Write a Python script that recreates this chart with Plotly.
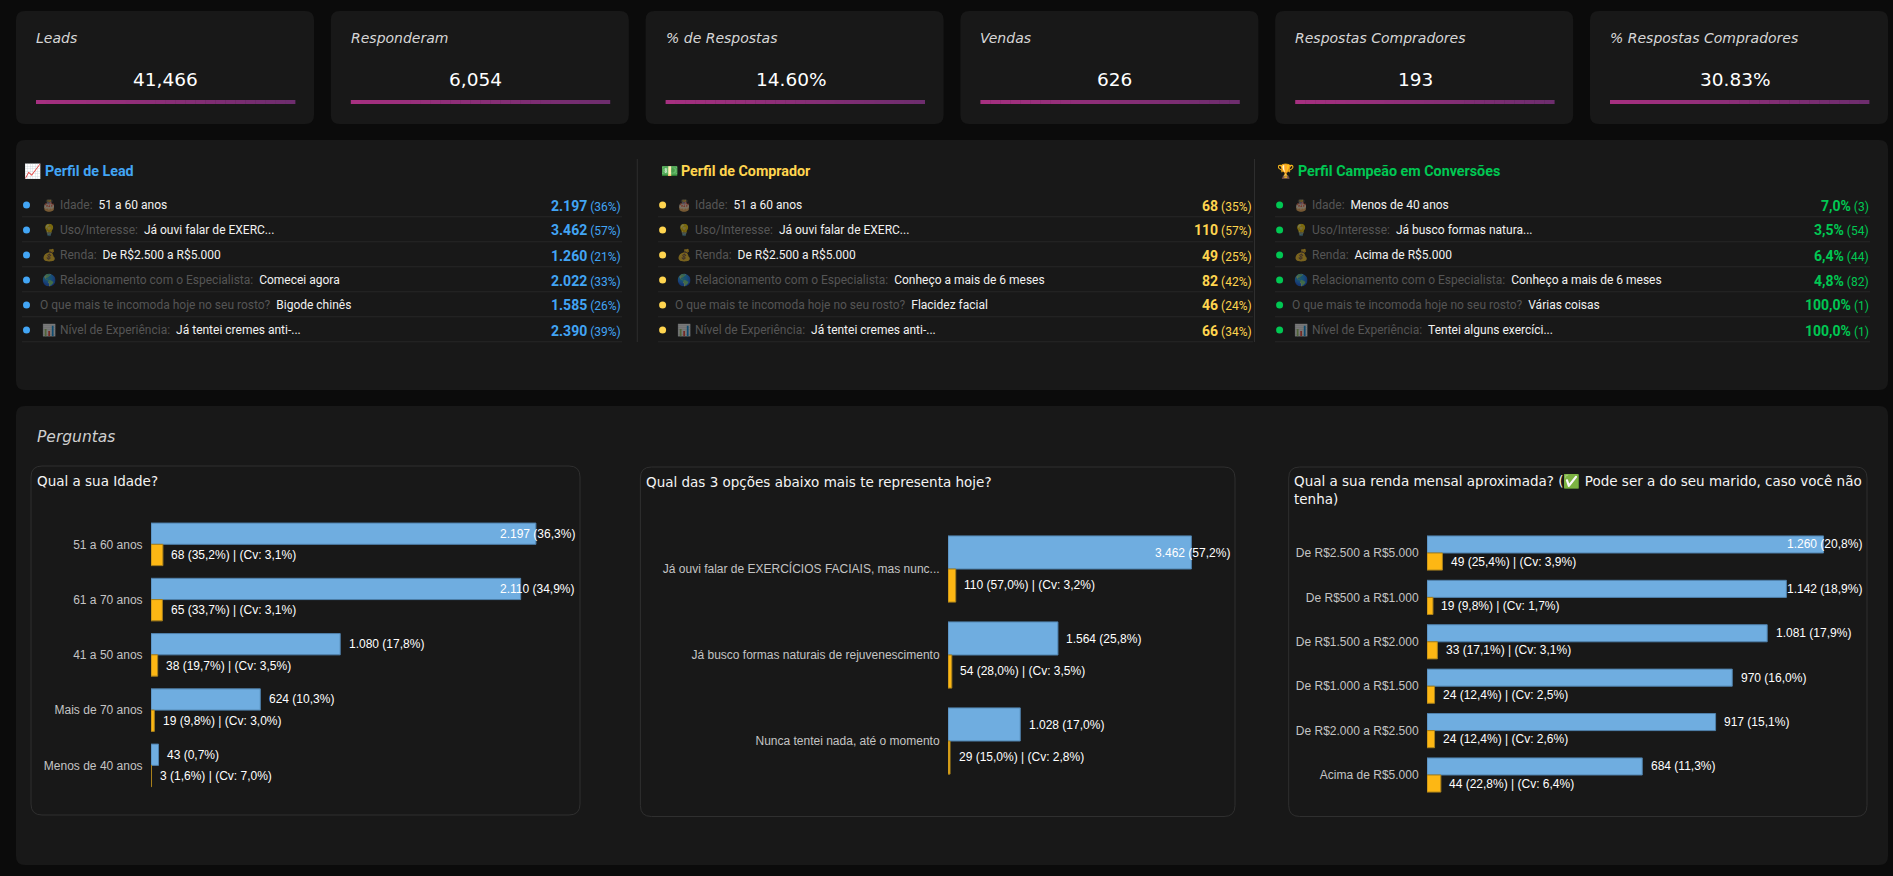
import plotly.graph_objects as go

W, H = 1893, 876

# KPI cards
kpi_titles = ["Leads", "Responderam", "% de Respostas", "Vendas", "Respostas Compradores", "% Respostas Compradores"]
kpi_values = ["41,466", "6,054", "14.60%", "626", "193", "30.83%"]

# Profile lists
row_icons = ["🎂", "💡", "💰", "🌎", "", "📊"]
row_labels = ["Idade:", "Uso/Interesse:", "Renda:", "Relacionamento com o Especialista:",
              "O que mais te incomoda hoje no seu rosto?", "Nível de Experiência:"]
lead_answers = ["51 a 60 anos", "Já ouvi falar de EXERC...", "De R$2.500 a R$5.000", "Comecei agora",
                "Bigode chinês", "Já tentei cremes anti-..."]
lead_main = ["2.197", "3.462", "1.260", "2.022", "1.585", "2.390"]
lead_side = ["36%", "57%", "21%", "33%", "26%", "39%"]
buyer_answers = ["51 a 60 anos", "Já ouvi falar de EXERC...", "De R$2.500 a R$5.000", "Conheço a mais de 6 meses",
                 "Flacidez facial", "Já tentei cremes anti-..."]
buyer_main = ["68", "110", "49", "82", "46", "66"]
buyer_side = ["35%", "57%", "25%", "42%", "24%", "34%"]
champ_answers = ["Menos de 40 anos", "Já busco formas natura...", "Acima de R$5.000", "Conheço a mais de 6 meses",
                 "Várias coisas", "Tentei alguns exercíci..."]
champ_main = ["7,0%", "3,5%", "6,4%", "4,8%", "100,0%", "100,0%"]
champ_side = ["3", "54", "44", "82", "1", "1"]

# Question charts
age_cats = ["51 a 60 anos", "61 a 70 anos", "41 a 50 anos", "Mais de 70 anos", "Menos de 40 anos"]
age_leads = [2197, 2110, 1080, 624, 43]
age_lead_pct = [36.3, 34.9, 17.8, 10.3, 0.7]
age_buyers = [68, 65, 38, 19, 3]
age_buyer_pct = [35.2, 33.7, 19.7, 9.8, 1.6]
age_cv = [3.1, 3.1, 3.5, 3.0, 7.0]

use_cats = ["Já ouvi falar de EXERCÍCIOS FACIAIS, mas nunc...", "Já busco formas naturais de rejuvenescimento",
            "Nunca tentei nada, até o momento"]
use_leads = [3462, 1564, 1028]
use_lead_pct = [57.2, 25.8, 17.0]
use_buyers = [110, 54, 29]
use_buyer_pct = [57.0, 28.0, 15.0]
use_cv = [3.2, 3.5, 2.8]

income_cats = ["De R$2.500 a R$5.000", "De R$500 a R$1.000", "De R$1.500 a R$2.000", "De R$1.000 a R$1.500",
               "De R$2.000 a R$2.500", "Acima de R$5.000"]
income_leads = [1260, 1142, 1081, 970, 917, 684]
income_lead_pct = [20.8, 18.9, 17.9, 16.0, 15.1, 11.3]
income_buyers = [49, 19, 33, 24, 24, 44]
income_buyer_pct = [25.4, 9.8, 17.1, 12.4, 12.4, 22.8]
income_cv = [3.9, 1.7, 3.1, 2.5, 2.6, 6.4]

PAGE = "#0b0b0b"
CARD = "#181818"
UI_FONT = "Roboto"
HEAD_FONT = "DejaVu Sans"
BAR_FONT = "Liberation Sans"


def px(x):
    return x / W


def py(y):
    return 1 - y / H


shapes, notes = [], []


def page_path(x0, y0, x1, y1, r, fill, line=None):
    # Rounded rectangle given in page pixels, converted to paper fractions.
    left, right, top, bottom = px(x0), px(x1), py(y0), py(y1)
    rx, ry = px(r), r / H
    path = (f"M{left+rx},{top} L{right-rx},{top} Q{right},{top} {right},{top-ry} "
            f"L{right},{bottom+ry} Q{right},{bottom} {right-rx},{bottom} "
            f"L{left+rx},{bottom} Q{left},{bottom} {left},{bottom+ry} "
            f"L{left},{top-ry} Q{left},{top} {left+rx},{top} Z")
    shapes.append(dict(type="path", path=path, xref="paper", yref="paper", fillcolor=fill,
                       line=dict(color=line or fill, width=1 if line else 0), layer="below"))


def rect(x0, y0, x1, y1, fill):
    shapes.append(dict(type="rect", xref="paper", yref="paper", x0=px(x0), x1=px(x1), y0=py(y1), y1=py(y0),
                       fillcolor=fill, line=dict(width=0), layer="below"))


def text(x, y, s, size, color, font=UI_FONT, anchor="left", opacity=1):
    notes.append(dict(xref="paper", yref="paper", x=px(x), y=py(y), text=s, showarrow=False, xanchor=anchor,
                      yanchor="middle", align=anchor, font=dict(family=font, size=size, color=color),
                      borderpad=0, borderwidth=0, opacity=opacity))


# KPI row: the value text sits a few pixels off the card centre, differently per card
value_nudge = [0, -4, -2.7, 5, -9, -3.5]
for i, (title, value) in enumerate(zip(kpi_titles, kpi_values)):
    left = 16 + i * 314.8
    page_path(left, 11, left + 298, 124, 9, CARD)
    text(left + 20, 38, f"<i>{title}</i>", 14, "#d6d6d6", HEAD_FONT)
    text(left + 149 + value_nudge[i], 79.3, value, 18.5, "#ffffff", HEAD_FONT, "center")
    for k in range(26):
        t = k / 25
        c = f"rgb({int(166 - 56 * t)},{int(48 - 3 * t)},{int(128 - 18 * t)})"
        seg = 259 / 26
        rect(left + 20 + k * seg, 100, left + 20 + (k + 1) * seg + 0.4, 104, c)

# Profile panel
page_path(16, 140, 1888, 390, 9, CARD)
for x in (637.3, 1254.5):
    rect(x - 0.5, 159, x + 0.5, 342, "#2e2e2e")

columns = [
    dict(icon="📈", head="Perfil de Lead", color="#42a5f5", answers=lead_answers, main=lead_main, side=lead_side,
         bullet=26.5, head_x=45, icon_x=24, label_x=42, right=621, sep=(22, 622)),
    dict(icon="💵", head="Perfil de Comprador", color="#ffd54f", answers=buyer_answers, main=buyer_main, side=buyer_side,
         bullet=662.6, head_x=681.4, icon_x=661, label_x=677, right=1251.6, sep=(658, 1253)),
    dict(icon="🏆", head="Perfil Campeão em Conversões", color="#00c853", answers=champ_answers, main=champ_main,
         side=champ_side, bullet=1279.6, head_x=1298, icon_x=1276.6, label_x=1294, right=1869, sep=(1275, 1870)),
]
row_y = [205, 230, 255, 280, 305, 330]
for col in columns:
    text(col["icon_x"], 171.3, col["icon"], 14, col["color"])
    text(col["head_x"], 171.3, f"<b>{col['head']}</b>", 14.3, col["color"])
    for j, y in enumerate(row_y):
        rect(col["sep"][0], y + 11.2, col["sep"][1], y + 12.2, "#262626")
        shapes.append(dict(type="circle", xref="paper", yref="paper", x0=px(col["bullet"] - 3.5),
                           x1=px(col["bullet"] + 3.5), y0=py(y + 3.5), y1=py(y - 3.5),
                           fillcolor=col["color"], line=dict(width=0), layer="above"))
        # Rows with an icon carry it dimmed; the row without one starts further left.
        if row_icons[j]:
            text(col["label_x"], y, row_icons[j], 11.5, "#ffffff", opacity=0.42)
            lx = col["label_x"] + 18
        else:
            lx = col["label_x"] - 2
        text(lx - 0.5, y, f'<span style="color:#555555">{row_labels[j]}</span>&nbsp;&nbsp;'
                          f'<span style="color:#f2f2f2">{col["answers"][j]}</span>', 12, "#f2f2f2")
        text(col["right"], y + 0.5, f'<b><span style="font-size:14px">{col["main"][j]}</span></b>&nbsp;'
                                    f'({col["side"][j]})', 12, col["color"], UI_FONT, "right")

# Questions panel
page_path(16, 406, 1888, 865, 9, CARD)
text(36.5, 436.5, "<i>Perguntas</i>", 15.5, "#cfcfcf", HEAD_FONT)


def br(n):
    return f"{n:,}".replace(",", ".")


def pct(v):
    return f"{v:.1f}%".replace(".", ",")


fig = go.Figure()
charts = [
    dict(title="Qual a sua Idade?", cats=age_cats, leads=age_leads, lp=age_lead_pct, buyers=age_buyers,
         bp=age_buyer_pct, cv=age_cv, box=(31, 466, 580, 815), title_xy=(36.8, 480.5), plot=(151, 516.7, 575.5, 793),
         scale=0.1752, gap=0.227),
    dict(title="Qual das 3 opções abaixo mais te representa hoje?", cats=use_cats, leads=use_leads, lp=use_lead_pct,
         buyers=use_buyers, bp=use_buyer_pct, cv=use_cv, box=(640.4, 467, 1235, 816.5), title_xy=(646, 481.5),
         plot=(948, 526, 1230.5, 784), scale=0.0703, gap=0.24),
    dict(title="Qual a sua renda mensal aproximada? (✅ Pode ser a do seu marido, caso você não<br>tenha)",
         cats=income_cats, leads=income_leads, lp=income_lead_pct, buyers=income_buyers, bp=income_buyer_pct,
         cv=income_cv, box=(1288.7, 467, 1867, 816.5), title_xy=(1293.8, 490.5), plot=(1427, 530.8, 1862.5, 797.2),
         scale=0.3147, gap=0.22),
]

layout_axes = {}
for n, ch in enumerate(charts, start=1):
    page_path(*ch["box"], 11, CARD, "#2f2f2f")
    text(*ch["title_xy"], ch["title"], 13.5, "#f4f4f4", HEAD_FONT)
    x0, y0, x1, y1 = ch["plot"]
    xa, ya = f"x{n}", f"y{n}"
    xmax = (x1 - x0) / ch["scale"]
    fig.add_trace(go.Bar(y=ch["cats"], x=ch["leads"], orientation="h", xaxis=xa, yaxis=ya, offsetgroup="leads",
                         marker=dict(color="#6fade0", line=dict(color="#4f80ab", width=1)), showlegend=False,
                         hoverinfo="skip"))
    fig.add_trace(go.Bar(y=ch["cats"], x=ch["buyers"], orientation="h", xaxis=xa, yaxis=ya, offsetgroup="buyers",
                         marker=dict(color="#fdb714", line=dict(color="#a8801c", width=1)), showlegend=False,
                         hoverinfo="skip"))
    suffix = "" if n == 1 else str(n)
    layout_axes[f"xaxis{suffix}"] = dict(domain=[px(x0), px(x1)], range=[0, xmax], visible=False, anchor=ya,
                                         fixedrange=True)
    layout_axes[f"yaxis{suffix}"] = dict(domain=[py(y1), py(y0)], categoryorder="array", categoryarray=ch["cats"],
                                         autorange="reversed", anchor=xa, showgrid=False, zeroline=False,
                                         showline=False, ticks="outside", ticklen=5, tickcolor="rgba(0,0,0,0)",
                                         tickfont=dict(family=BAR_FONT, size=12, color="#c4c4c4"), fixedrange=True)
    band = (y1 - y0) / len(ch["cats"]) * (1 - ch["gap"]) / 4
    for cat, lead, lp, buyer, bp, cv in zip(ch["cats"], ch["leads"], ch["lp"], ch["buyers"], ch["bp"], ch["cv"]):
        lead_text = f"{br(lead)} ({pct(lp)})"
        buyer_text = f"{buyer} ({pct(bp)}) | (Cv: {pct(cv)})"
        # A long lead label is pulled back inside the right edge of the plot.
        fits = lead * ch["scale"] + 9 + len(lead_text) * 5.85 <= x1 - x0
        notes.append(dict(xref=xa, yref=ya, x=lead if fits else xmax, y=cat, text=lead_text, showarrow=False,
                          xanchor="left" if fits else "right", xshift=7.5 if fits else 0, yshift=band,
                          font=dict(family=BAR_FONT, size=12, color="#ffffff"), borderpad=0))
        notes.append(dict(xref=xa, yref=ya, x=buyer, y=cat, text=buyer_text, showarrow=False, xanchor="left",
                          xshift=7.5, yshift=-band, font=dict(family=BAR_FONT, size=12, color="#ffffff"), borderpad=0))

fig.update_layout(width=W, height=H, autosize=False, margin=dict(l=0, r=0, t=0, b=0), paper_bgcolor=PAGE,
                  plot_bgcolor="rgba(0,0,0,0)", barmode="group", bargap=0.23, bargroupgap=0, shapes=shapes,
                  annotations=notes, showlegend=False, **layout_axes)
fig.write_html("out.html", config=dict(displayModeBar=False))
